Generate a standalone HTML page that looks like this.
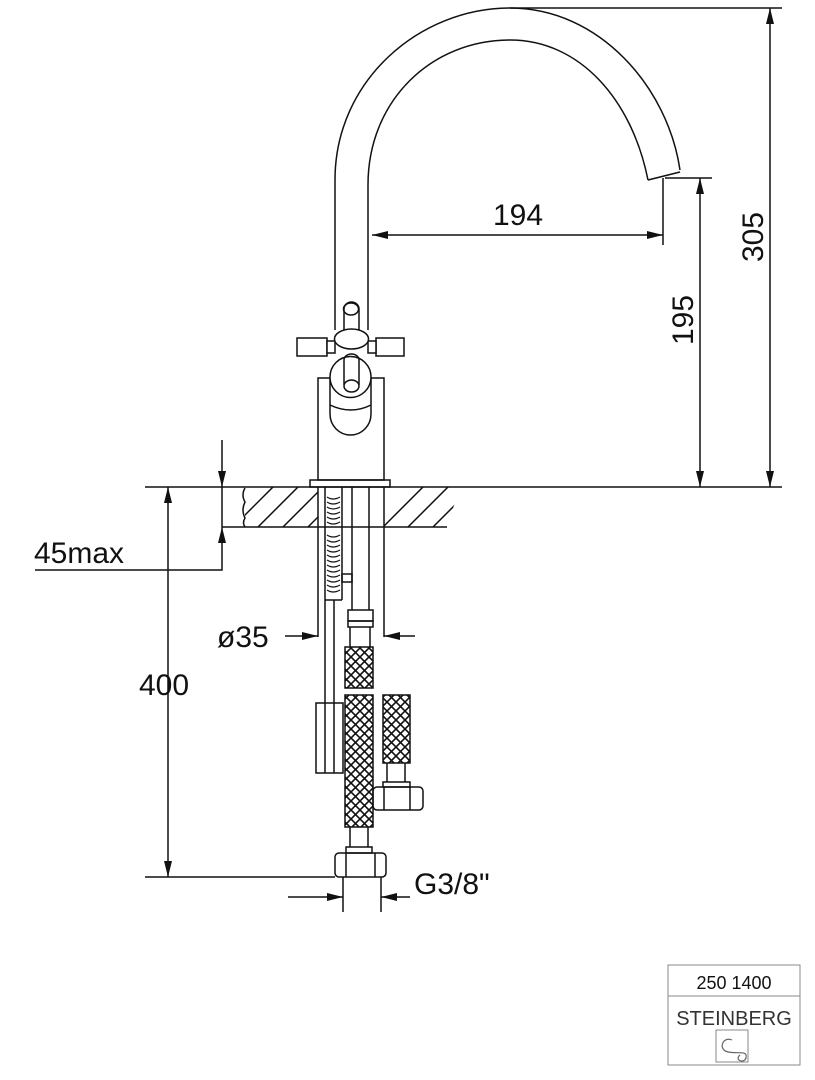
<!DOCTYPE html>
<html><head><meta charset="utf-8"><style>
html,body{margin:0;padding:0;background:#fff;}
svg{display:block}
text{font-family:"Liberation Sans",Arial,sans-serif;fill:#111}
</style></head><body>
<svg width="815" height="1080" viewBox="0 0 815 1080" xmlns="http://www.w3.org/2000/svg">
<defs>
<marker id="a" viewBox="0 0 16 8" refX="16" refY="4" markerWidth="16" markerHeight="8" markerUnits="userSpaceOnUse" orient="auto-start-reverse"><path d="M0,0L16,4L0,8z" fill="#111"/></marker>
<pattern id="hx" width="9" height="9" patternUnits="userSpaceOnUse"><path d="M0,0L9,9M9,0L0,9" stroke="#111" stroke-width="1.6"/></pattern>
<clipPath id="cl"><rect x="245" y="487" width="73" height="40"/></clipPath>
<clipPath id="cr"><path d="M384,487H460L447,527H384z"/></clipPath>
</defs>
<g fill="none" stroke="#111" stroke-width="1.5">
<path d="M335,330L335,180C335,80 420,8 510,8C600,8 668,88 680,170"/>
<path d="M368,330L368,185C368,100 432,40 510,40C580,40 632,100 648,180"/>
<path d="M648,180L680,172"/>
<path d="M510,8H782M665,178H712M663,178V245M145,487H782"/>
<path d="M770,8V487" marker-start="url(#a)" marker-end="url(#a)"/>
<path d="M700,178V487" marker-start="url(#a)" marker-end="url(#a)"/>
<path d="M372,235H663" marker-start="url(#a)" marker-end="url(#a)"/>
<rect x="297" y="338" width="30" height="18" fill="#fff"/>
<rect x="327" y="341" width="8" height="12" fill="#fff"/>
<rect x="376" y="338" width="28" height="18" fill="#fff"/>
<rect x="368" y="341" width="8" height="12" fill="#fff"/>
<path d="M344,340V309A7.5,7 0 0 1 359,309V340" fill="#fff"/>
<ellipse cx="351" cy="309" rx="7.5" ry="6"/>
<ellipse cx="351.5" cy="339" rx="17" ry="10" fill="#fff"/>
<rect x="318" y="378" width="66" height="102" fill="#fff"/>
<path d="M330,377V414A20.5,21 0 0 0 371,414V377"/>
<path d="M330,405Q351,415 371,405"/>
<circle cx="350.5" cy="377" r="20.5" fill="#fff"/>
<path d="M344,385V360A7.5,6 0 0 1 359,360V385"/>
<ellipse cx="351.5" cy="386" rx="7.5" ry="6"/>
<rect x="310" y="480" width="80" height="7"/>
<path d="M222,527H447M222,487V527"/>
<path d="M245,488Q241,495 245,502Q241,510 245,518Q242,523 245,527"/>
<g clip-path="url(#cl)"><path d="M230,530L275,485M255,530L300,485M280,530L325,485M305,530L350,485"/></g>
<g clip-path="url(#cr)"><path d="M380,530L425,485M405,530L450,485M430,530L475,485M455,530L500,485"/></g>
<path d="M318,487V637M384,487V637M325,487V703M334,600V703M342,487V600M352,487V610M369,487V610M325,600H342"/>
<g stroke-width="1.2"><path d="M327,497Q333,501 340,497M327,502Q333,506 340,502M327,507Q333,511 340,507M327,512Q333,516 340,512M327,517Q333,521 340,517M327,522Q333,526 340,522M327,535Q333,539 340,535M327,540Q333,544 340,540M327,545Q333,549 340,545M327,550Q333,554 340,550M327,555Q333,559 340,555M327,560Q333,564 340,560M327,565Q333,569 340,565M327,570Q333,574 340,570M327,575Q333,579 340,575M327,580Q333,584 340,580M327,585Q333,589 340,585M327,590Q333,594 340,590"/></g>
<rect x="342" y="574" width="10" height="8"/>
<rect x="348" y="610" width="25" height="11"/><rect x="348" y="621" width="25" height="6"/>
<path d="M350,627V647M370,627V647"/>
<rect x="345" y="647" width="28" height="41" fill="url(#hx)"/>
<rect x="345" y="695" width="28" height="132" fill="url(#hx)"/>
<path d="M350,827V847M368,827V847"/>
<rect x="346" y="847" width="26" height="6"/>
<rect x="335" y="853" width="51" height="24" rx="4"/><path d="M346,853V877M375,853V877"/>
<rect x="383" y="695" width="27" height="68" fill="url(#hx)"/>
<path d="M387,763V782M405,763V782"/>
<rect x="383" y="782" width="27" height="5"/>
<rect x="373" y="787" width="50" height="23" rx="4"/><path d="M384,787V810M410,787V810"/>
<rect x="316" y="703" width="27" height="70"/><path d="M325,703V773M334,703V773"/>
<path d="M285,636H318" marker-end="url(#a)"/>
<path d="M415,636H384" marker-end="url(#a)"/>
<path d="M168,487V877" marker-start="url(#a)" marker-end="url(#a)"/>
<path d="M145,877H335"/>
<path d="M35,570H222V527" marker-end="url(#a)"/>
<path d="M222,440V487" marker-end="url(#a)"/>
<path d="M343,877V912M381,877V912"/>
<path d="M288,897H343" marker-end="url(#a)"/>
<path d="M410,897H381" marker-end="url(#a)"/>
</g>
<g font-size="30">
<text x="518" y="225" text-anchor="middle">194</text>
<text transform="translate(693,320) rotate(-90)" text-anchor="middle">195</text>
<text transform="translate(763,237) rotate(-90)" text-anchor="middle">305</text>
<text x="34" y="563">45max</text>
<text x="217" y="647">ø35</text>
<text x="139" y="695">400</text>
<text x="414" y="894">G3/8"</text>
</g>
<g fill="none" stroke="#888" stroke-width="1">
<rect x="668" y="965" width="132" height="100"/><path d="M668,996H800"/>
<rect x="716" y="1030" width="32" height="32"/>
<path d="M732,1040C722,1036 718,1050 728,1052C738,1054 748,1050 746,1058C744,1064 734,1060 740,1055" stroke="#666" stroke-width="1.2"/>
</g>
<text x="734" y="989" text-anchor="middle" font-size="18">250 1400</text>
<text x="734" y="1025" text-anchor="middle" font-size="20" style="fill:#333">STEINBERG</text>
</svg>
</body></html>
